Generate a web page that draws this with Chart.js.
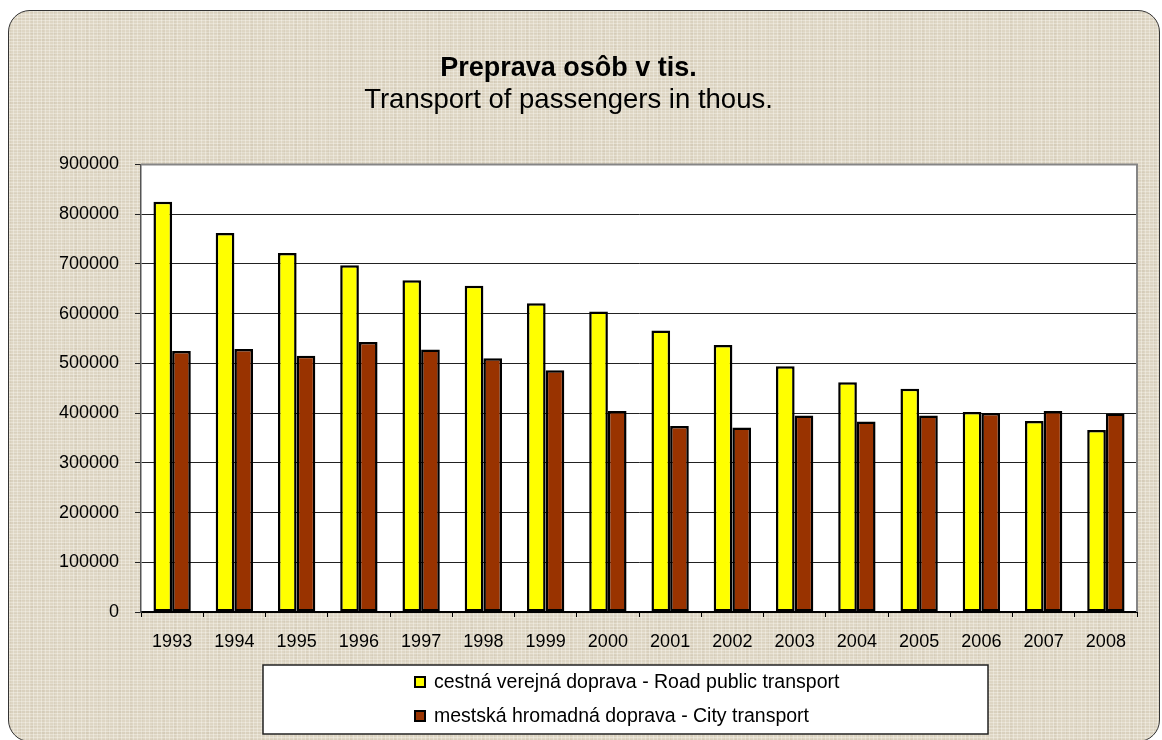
<!DOCTYPE html>
<html>
<head>
<meta charset="utf-8">
<script src="https://cdn.jsdelivr.net/npm/chart.js@4"></script>
<style>
  html, body { margin: 0; padding: 0; background: #fff; overflow: hidden; }
  #wrap { position: relative; width: 1162px; height: 740px; }
  #card {
    position: absolute; left: 8px; top: 10px; width: 1150px; height: 730px;
    border: 1.5px solid #333; border-radius: 22px;
    background-color: #ded6c4;
    background-image:
      repeating-linear-gradient(0deg, rgba(255,255,250,0.30) 0 1px, transparent 1px 3px),
      repeating-linear-gradient(90deg, rgba(255,255,250,0.30) 0 1px, transparent 1px 4px),
      repeating-linear-gradient(0deg, rgba(140,120,90,0.06) 0 2px, transparent 2px 7px),
      repeating-linear-gradient(90deg, rgba(140,120,90,0.06) 0 2px, transparent 2px 11px);
  }
  canvas { position: absolute; left: 0; top: 0; }
</style>
</head>
<body>
<div id="wrap">
  <div id="card"></div>
  <canvas id="transportChart" width="1162" height="740"></canvas>
</div>
<script>
const years = ['1993', '1994', '1995', '1996', '1997', '1998', '1999', '2000',
               '2001', '2002', '2003', '2004', '2005', '2006', '2007', '2008'];
const roadPublic = [825000, 762000, 722000, 697000, 667000, 656000, 621000, 604000,
                    566000, 537000, 494000, 462000, 449000, 402000, 384000, 366000];
const cityTransport = [525000, 529000, 515000, 543000, 528000, 510000, 486000, 404000,
                       374000, 371000, 395000, 383000, 395000, 400000, 404000, 399000];
const seriesLabels = ['cestná verejná doprava - Road public transport',
                      'mestská hromadná doprava - City transport'];

const FONT = "'Liberation Sans', Arial, sans-serif";

// white plot area + gray frame on top/right
const plotBg = {
  id: 'plotBg',
  beforeDraw(chart) {
    const {ctx, chartArea: a} = chart;
    ctx.save();
    ctx.fillStyle = '#fff';
    ctx.fillRect(a.left, a.top, a.right - a.left, a.bottom - a.top);
    ctx.restore();
  },
  afterDraw(chart) {
    const {ctx, chartArea: a} = chart;
    ctx.save();
    ctx.strokeStyle = '#858585';
    ctx.lineWidth = 2;
    ctx.beginPath();
    ctx.moveTo(a.left, a.top);
    ctx.lineTo(a.right, a.top);
    ctx.lineTo(a.right, a.bottom);
    ctx.stroke();
    ctx.restore();
  }
};

// boxed legend, items stacked under each other
const boxLegend = {
  id: 'boxLegend',
  afterDraw(chart) {
    const ctx = chart.ctx;
    ctx.save();
    ctx.fillStyle = '#fff';
    ctx.fillRect(263, 665, 725, 69);
    ctx.strokeStyle = '#222';
    ctx.lineWidth = 1.5;
    ctx.strokeRect(263, 665, 725, 69);
    ctx.font = '19.5px ' + FONT;
    ctx.textBaseline = 'middle';
    chart.data.datasets.forEach((ds, i) => {
      const cy = 682 + i * 34;
      ctx.fillStyle = ds.backgroundColor;
      ctx.fillRect(415, cy - 5, 10, 10);
      ctx.strokeStyle = '#000';
      ctx.lineWidth = 2;
      ctx.strokeRect(415, cy - 5, 10, 10);
      ctx.fillStyle = '#000';
      ctx.fillText(ds.label, 434, cy + 1);
    });
    ctx.restore();
  }
};

new Chart(document.getElementById('transportChart'), {
  type: 'bar',
  data: {
    labels: years,
    datasets: [{
      label: seriesLabels[0],
      data: roadPublic,
      backgroundColor: '#ffff00',
      borderColor: '#000',
      borderWidth: 2.5,
      borderSkipped: false
    }, {
      label: seriesLabels[1],
      data: cityTransport,
      backgroundColor: '#993300',
      borderColor: '#000',
      borderWidth: 2.5,
      borderSkipped: false
    }]
  },
  options: {
    responsive: false,
    animation: false,
    devicePixelRatio: 1,
    categoryPercentage: 0.6,
    barPercentage: 1.0,
    layout: { padding: { left: 0, right: 25, top: 0, bottom: 0 } },
    plugins: {
      legend: { display: false },
      tooltip: { enabled: false },
      title: {
        display: true,
        text: 'Preprava osôb v tis.',
        color: '#000',
        font: { family: FONT, size: 27, weight: 'bold' },
        padding: { top: 52, bottom: 0 }
      },
      subtitle: {
        display: true,
        text: 'Transport of passengers in thous.',
        color: '#000',
        font: { family: FONT, size: 27.5, weight: 'normal' },
        padding: { top: 0, bottom: 47 }
      }
    },
    scales: {
      x: {
        grid: {
          offset: true,
          drawOnChartArea: false,
          tickLength: 5,
          color: '#000'
        },
        border: { color: '#000', width: 2 },
        ticks: {
          color: '#000',
          font: { family: FONT, size: 18 },
          padding: 14,
          maxRotation: 0
        },
        afterFit(scale) { scale.height = 128; }
      },
      y: {
        min: 0,
        max: 900000,
        ticks: {
          stepSize: 100000,
          color: '#000',
          font: { family: FONT, size: 18 },
          padding: 16,
          callback: v => String(v)
        },
        grid: { color: '#222', lineWidth: 1, tickLength: 6 },
        border: { color: '#555', width: 1.5 },
        afterFit(scale) { scale.width = 141; }
      }
    }
  },
  plugins: [plotBg, boxLegend]
});
</script>
</body>
</html>
